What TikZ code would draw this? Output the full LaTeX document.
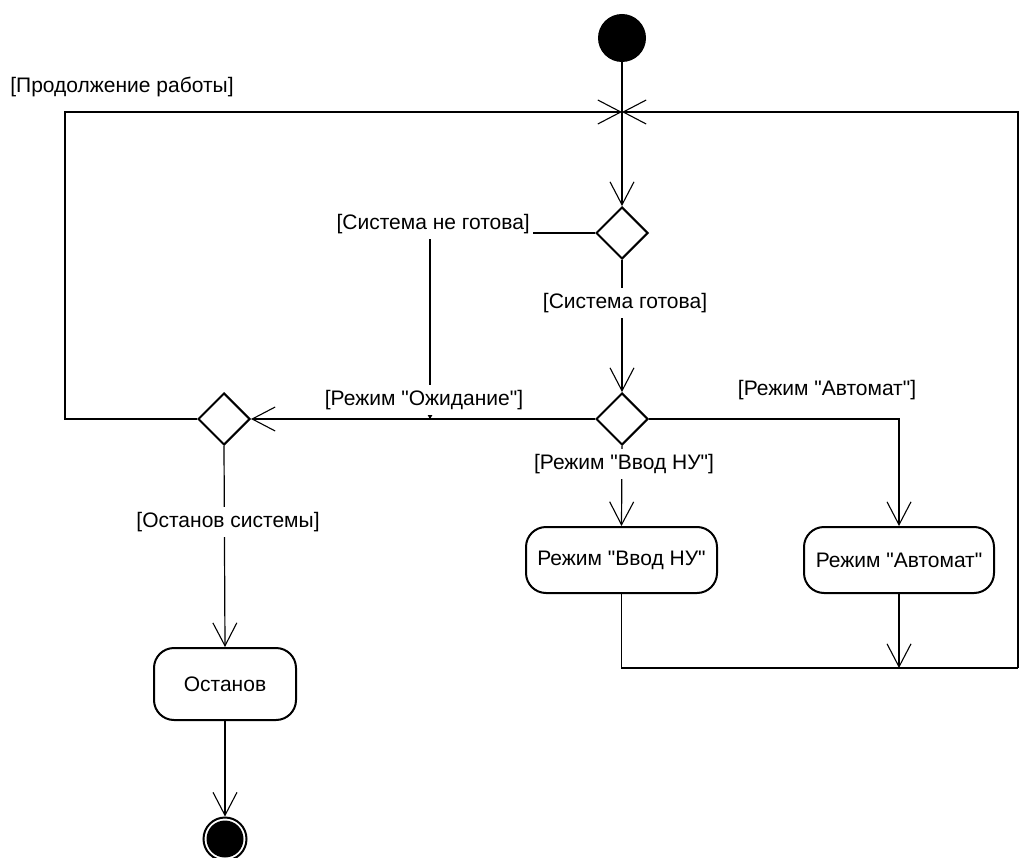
\documentclass[tikz,border=0pt]{standalone}
\usepackage{fontspec}
\setmainfont{Liberation Sans}
\usetikzlibrary{arrows.meta,shapes.geometric}
\newcommand{\qd}{\XeTeXglyph\XeTeXcharglyph"22\relax}
\begin{document}
\begin{tikzpicture}[x=1pt,y=-1pt,
  every node/.style={font=\fontsize{21}{25}\selectfont, inner sep=0pt},
  conn/.style={line width=1.2pt, draw=black},
  oarrow/.style={-{Straight Barb[length=23pt,width=24pt,line width=1.1pt]}},
  tinyarrow/.style={-{Straight Barb[length=5pt,width=6pt,line width=1pt]}},
  act/.style={draw, line width=2pt, rounded corners=20pt, minimum height=66pt, align=center},
  dec/.style={draw, diamond, line width=2pt, minimum width=52pt, minimum height=52pt},
  lbl/.style={fill=white, inner xsep=3pt, inner ysep=5pt},
  plain/.style={inner sep=2pt},
]
\useasboundingbox (0,0) rectangle (1019,858);

% nodes
\node[circle, fill=black, minimum size=48pt] (start) at (622,38) {};
\coordinate (j) at (622,112);
\node[dec] (d1) at (622,233) {};
\node[dec] (d2) at (622,419) {};
\node[dec] (d3) at (224,419) {};
\node[act, minimum width=191pt] (vvod) at (621.5,560) {Режим \qd Ввод НУ\qd};
\node[act, minimum width=190pt] (avt) at (899,560) {Режим \qd Автомат\qd};
\node[act, minimum width=142pt, minimum height=72pt] (ost) at (225,684) {Останов};
\node[circle, draw, line width=2pt, minimum size=43pt] (end) at (225,839) {};
\fill[black] (end.center) circle (18.5);

\coordinate (cL) at (65,112);
\coordinate (cLb) at (65,419);
\coordinate (cR) at (1018,112);
\coordinate (cRb) at (1018,668);
\coordinate (cV) at (621.5,668);
\coordinate (cA) at (899,668);
\coordinate (cAt) at (899,419);
\coordinate (cW) at (430,233);
\coordinate (cWb) at (430,419);

% connectors
\draw[conn] (start) -- (j);
\draw[conn,oarrow] (d3.west) -- (cLb) -- (cL) -- (j);
\draw[conn,oarrow] (cRb) -- (cR) -- (j);
\draw[conn,oarrow] (j) -- (d1.north);
\draw[conn] (d1.west) -- (cW);
\draw[conn,tinyarrow] (cW) -- (cWb);
\draw[conn,oarrow] (d1.south) -- (d2.north);
\draw[conn,oarrow] (d2.west) -- (d3.east);
\draw[conn,oarrow] (d2.east) -- (cAt) -- (avt.north);
\draw[conn,oarrow] (d2.south) -- (vvod.north);
\draw[conn] (vvod.south) -- (cV) -- (cRb);
\draw[conn,oarrow] (avt.south) -- (cA);
\draw[conn,oarrow] (d3.south) -- (ost.north);
\draw[conn,oarrow] (ost.south) -- (end);

% labels
\node[plain] (lcont) at (122,87) {[Продолжение работы]};
\node[lbl, anchor=east, minimum height=30pt] (lnr) at (533,224) {[Система не готова]};
\node[lbl] (lr) at (625,303) {[Система готова]};
\node[lbl] (lwait) at (424,400) {[Режим \qd Ожидание\qd]};
\node[plain] (lauto) at (827,390) {[Режим \qd Автомат\qd]};
\node[lbl] (lvvod) at (624,464) {[Режим \qd Ввод НУ\qd]};
\node[lbl] (lstop) at (228,522) {[Останов системы]};
\end{tikzpicture}
\end{document}
